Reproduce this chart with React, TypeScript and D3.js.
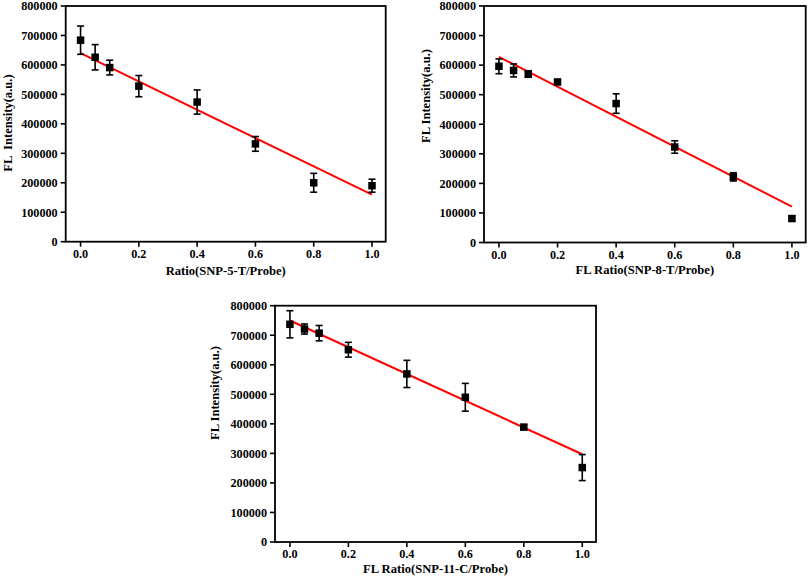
import React from "react";
import * as d3 from "d3";

// ---- data ----
const ratios = [0, 0.05, 0.1, 0.2, 0.4, 0.6, 0.8, 1.0];

const snp5Values = [684000, 626000, 591000, 528000, 474000, 332000, 200000, 190000];
const snp5Errors = [48000, 43000, 25000, 36000, 41000, 25000, 32000, 22000];
const snp5Fit = [640000, 160000]; // value at ratio 0 and 1

const snp8Values = [596000, 582000, 570000, 543000, 470000, 323000, 222000, 81000];
const snp8Errors = [25000, 22000, 11000, 8000, 33000, 21000, 14000, 8000];
const snp8Fit = [628000, 121000];

const snp11Values = [737000, 721000, 707000, 651000, 569000, 490000, 389000, 252000];
const snp11Errors = [46000, 17000, 26000, 25000, 46000, 47000, 8000, 44000];
const snp11Fit = [750000, 297000];

const xTicks = [0, 0.2, 0.4, 0.6, 0.8, 1.0];
const yTicks = [0, 100000, 200000, 300000, 400000, 500000, 600000, 700000, 800000];

const titlesX = ["Ratio(SNP-5-T/Probe)", "FL Ratio(SNP-8-T/Probe)", "FL Ratio(SNP-11-C/Probe)"];
const titlesY = ["FL  Intensity(a.u.)", "FL Intensity(a.u.)", "FL Intensity(a.u.)"];

const FONT = "'Liberation Serif', 'Times New Roman', serif";

type PanelProps = {
  left: number;
  right: number;
  top: number;
  bottom: number;
  values: number[];
  errors: number[];
  fit: number[];
  xTitle: string;
  yTitle: string;
  yTitleX: number;
  yTitleY: number;
  xTitleY: number;
};

function Panel(p: PanelProps) {
  const x = d3.scaleLinear().domain([-0.051, 1.047]).range([p.left, p.right]);
  const y = d3.scaleLinear().domain([0, 800000]).range([p.bottom, p.top]);
  const fmtY = d3.format("d");
  const fmtX = d3.format(".1f");
  const fitLine = d3
    .line<number>()
    .x((r) => x(r))
    .y((r) => y(p.fit[0] + (p.fit[1] - p.fit[0]) * r));
  const sq = 7.5;
  const cap = 3.5;
  return (
    <g>
      {/* fit line */}
      <path d={fitLine([0, 1]) || ""} stroke="#ff0000" strokeWidth={2} fill="none" />
      {/* error bars & points */}
      {ratios.map((r, i) => {
        const cx = x(r);
        const yt = y(p.values[i] + p.errors[i]);
        const yb = y(p.values[i] - p.errors[i]);
        return (
          <g key={i}>
            <line x1={cx} x2={cx} y1={yt} y2={yb} stroke="#000" strokeWidth={1.6} />
            <line x1={cx - cap} x2={cx + cap} y1={yt} y2={yt} stroke="#000" strokeWidth={1.6} />
            <line x1={cx - cap} x2={cx + cap} y1={yb} y2={yb} stroke="#000" strokeWidth={1.6} />
            <rect x={cx - sq / 2} y={y(p.values[i]) - sq / 2} width={sq} height={sq} fill="#000" />
          </g>
        );
      })}
      {/* frame */}
      <rect
        x={p.left}
        y={p.top}
        width={p.right - p.left}
        height={p.bottom - p.top}
        fill="none"
        stroke="#000"
        strokeWidth={1.8}
      />
      {/* y ticks */}
      {yTicks.map((t) => (
        <g key={"y" + t}>
          <line x1={p.left - 5} x2={p.left} y1={y(t)} y2={y(t)} stroke="#000" strokeWidth={1.6} />
          <text
            x={p.left - 8}
            y={y(t)}
            dy="0.35em"
            textAnchor="end"
            fontFamily={FONT}
            fontWeight="bold"
            fontSize={12.2}
            fill="#000"
          >
            {fmtY(t)}
          </text>
        </g>
      ))}
      {/* x ticks */}
      {xTicks.map((t) => (
        <g key={"x" + t}>
          <line x1={x(t)} x2={x(t)} y1={p.bottom} y2={p.bottom + 5} stroke="#000" strokeWidth={1.6} />
          <text
            x={x(t)}
            y={p.bottom + 16}
            textAnchor="middle"
            fontFamily={FONT}
            fontWeight="bold"
            fontSize={12.2}
            fill="#000"
          >
            {fmtX(t)}
          </text>
        </g>
      ))}
      <text
        x={(p.left + p.right) / 2}
        y={p.xTitleY}
        textAnchor="middle"
        fontFamily={FONT}
        fontWeight="bold"
        fontSize={12.6}
        fill="#000"
      >
        {p.xTitle}
      </text>
      <text
        transform={`translate(${p.yTitleX},${p.yTitleY}) rotate(-90)`}
        textAnchor="middle"
        dy="0.35em"
        fontFamily={FONT}
        fontWeight="bold"
        fontSize={12.6}
        fill="#000"
        style={{ whiteSpace: "pre" }}
      >
        {p.yTitle}
      </text>
    </g>
  );
}

export default function App() {
  return (
    <>
      <style>{`body{margin:0;background:#fff}`}</style>
      <svg width={809} height={579} style={{ display: "block", background: "#fff" }}>
        <Panel
          left={65.7}
          right={385.7}
          top={6}
          bottom={241.7}
          values={snp5Values}
          errors={snp5Errors}
          fit={snp5Fit}
          xTitle={titlesX[0]}
          yTitle={titlesY[0]}
          yTitleX={8}
          yTitleY={123}
          xTitleY={275}
        />
        <Panel
          left={484}
          right={805.7}
          top={6}
          bottom={242.5}
          values={snp8Values}
          errors={snp8Errors}
          fit={snp8Fit}
          xTitle={titlesX[1]}
          yTitle={titlesY[1]}
          yTitleX={426}
          yTitleY={96}
          xTitleY={274}
        />
        <Panel
          left={275}
          right={596}
          top={305.7}
          bottom={542}
          values={snp11Values}
          errors={snp11Errors}
          fit={snp11Fit}
          xTitle={titlesX[2]}
          yTitle={titlesY[2]}
          yTitleX={215}
          yTitleY={393}
          xTitleY={573}
        />
      </svg>
    </>
  );
}
